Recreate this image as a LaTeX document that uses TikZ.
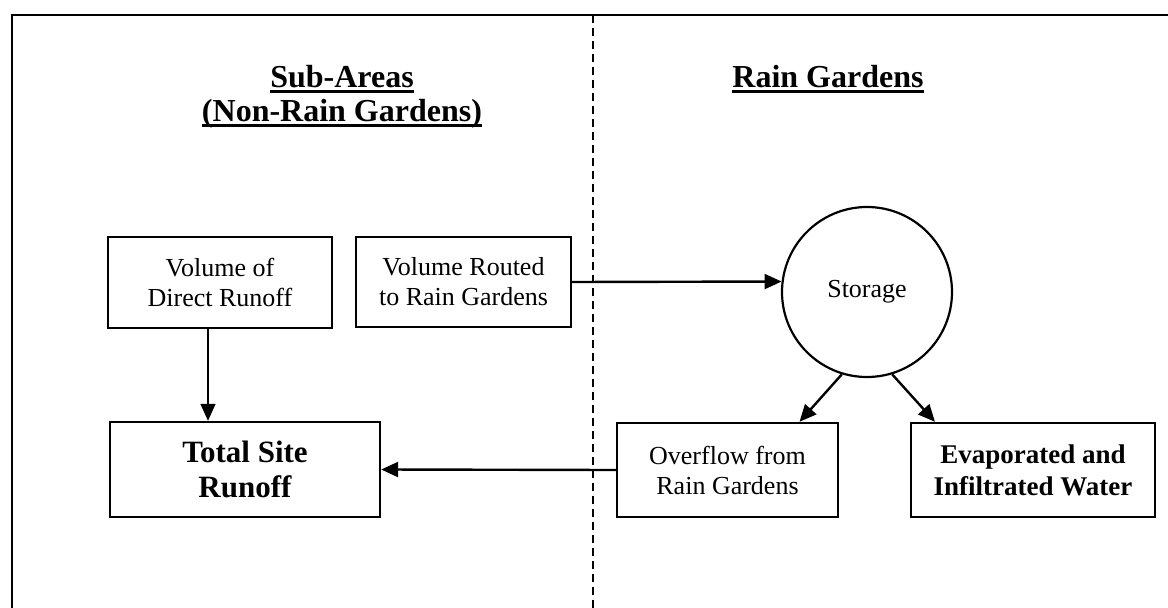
\documentclass[tikz,border=0pt]{standalone}
\usepackage{fontspec}
\setmainfont{Liberation Serif}
\usetikzlibrary{arrows.meta,calc}
% bold heading with a heavy underline
\newcommand\ulhead[1]{\setbox0\hbox{#1}\leavevmode\rlap{\raisebox{-6pt}{\rule{\wd0}{2.8pt}}}\box0}

\begin{document}
\begin{tikzpicture}[x=1pt,y=-1pt,
  box/.style={draw,line width=2.4pt,inner sep=0pt,align=center,
    font=\fontsize{26}{30}\selectfont},
  boldbox/.style={box,font=\fontsize{27}{32}\selectfont\bfseries},
  bigbox/.style={box,font=\fontsize{31}{35}\selectfont\bfseries},
  store/.style={draw,circle,line width=2.2pt,inner sep=0pt,
    font=\fontsize{26}{30}\selectfont},
  heading/.style={anchor=base,inner sep=0pt,
    font=\fontsize{32}{36}\selectfont\bfseries},
  flow/.style={line width=2.4pt,-{Triangle[length=17pt,width=15pt]}},
  thinflow/.style={line width=1.6pt,-{Triangle[length=17pt,width=15pt]}},
  frame/.style={line width=2.8pt},
  divider/.style={line width=1.8pt,dash pattern=on 8pt off 5pt}]

\useasboundingbox (0,0) rectangle (1168,608);

% outer frame (top and left edges) and the dashed column divider
\coordinate (ftl) at (12,15);
\coordinate (fbl) at (12,608);
\coordinate (ftr) at (1168,15);
\coordinate (dtop) at (593,15);
\coordinate (dbot) at (593,608);
\draw[frame] (fbl) -- (ftl) -- (ftr);
\draw[divider] (dtop) -- (dbot);

% column headings
\node[heading] (hsub) at (342,87) {\ulhead{Sub-Areas}};
\node[heading] (hnrg) at (342,121) {\ulhead{(Non-Rain Gardens)}};
\node[heading] (hrg) at (828,87) {\ulhead{Rain Gardens}};

% boxes
\node[box,minimum width=224pt,minimum height=91pt] (dr) at (220,282.5)
  {Volume of\\Direct Runoff};
\node[box,minimum width=215pt,minimum height=90pt] (vr) at (463.5,282)
  {Volume Routed\\to Rain Gardens};
\node[bigbox,minimum width=270pt,minimum height=95pt] (ts) at (245,469.5)
  {Total Site\\Runoff};
\node[box,minimum width=221pt,minimum height=94pt] (ov) at (727.5,470)
  {Overflow from\\Rain Gardens};
\node[boldbox,minimum width=244pt,minimum height=94pt] (ev) at (1033,470)
  {Evaporated and\\Infiltrated Water};
\node[store,minimum size=170pt] (st) at (867,292) {\raisebox{7pt}{Storage}};

% connectors
\draw[thinflow] ([xshift=-12pt]dr.south) -- ([xshift=-12pt]dr.south |- ts.north);
\draw[flow] (vr.east) -- (st.173);
\draw[flow] (st.-107) -- ([xshift=72pt]ov.north);
\draw[flow] (st.-73) -- ([xshift=-98pt]ev.north);
\draw[flow] (ov.west) -- (ts.east);
\end{tikzpicture}
\end{document}
